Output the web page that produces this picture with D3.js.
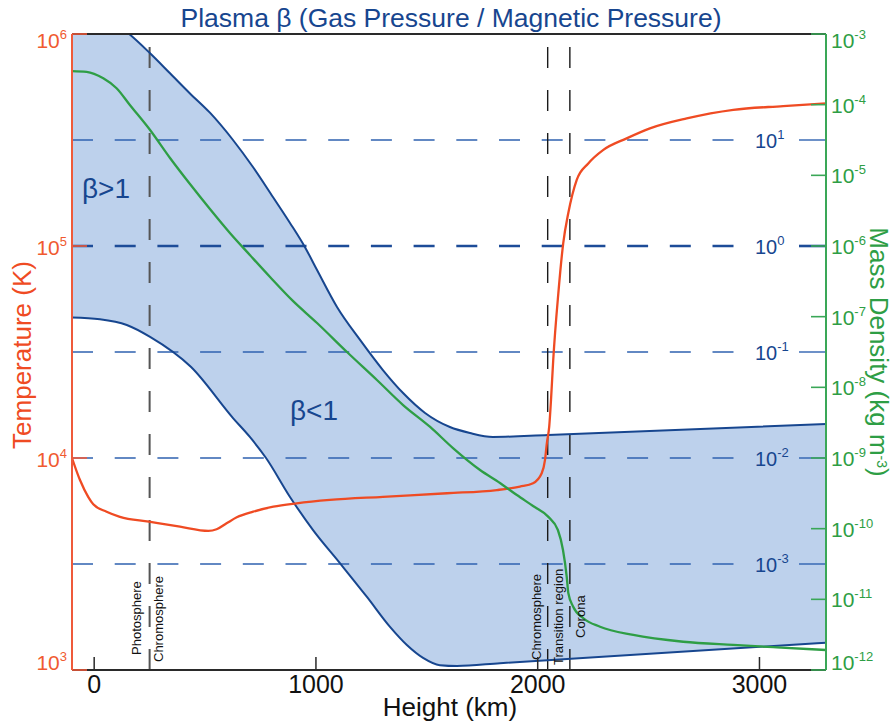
<!DOCTYPE html>
<html>
<head>
<meta charset="utf-8">
<script src="https://cdn.jsdelivr.net/npm/d3@7/dist/d3.min.js"></script>
<style>
  html, body { margin: 0; padding: 0; background: #fff; }
  svg { display: block; font-family: "Liberation Sans", Arial, Helvetica, sans-serif; }
</style>
</head>
<body>
<svg id="chart" width="896" height="724"></svg>
<script>
// ---- Data: solar atmosphere model vs. height above the photosphere (km) ----
const heightTemp = [-100, -64, -27, -4, 56, 116, 247, 387, 515, 552, 597, 643, 717, 808, 913, 1063, 1302, 1591, 1816, 1920, 1979, 2018, 2033, 2041, 2052, 2060, 2070, 2093, 2115, 2138, 2176, 2228, 2296, 2401, 2506, 2672, 2882, 3107, 3300];
const temperature = [1.0e4, 7.87e3, 6.56e3, 6.05e3, 5.58e3, 5.28e3, 5.01e3, 4.74e3, 4.53e3, 4.61e3, 4.92e3, 5.25e3, 5.58e3, 5.89e3, 6.11e3, 6.34e3, 6.56e3, 6.82e3, 7.06e3, 7.33e3, 7.60e3, 8.47e3, 9.79e3, 1.17e4, 1.41e4, 1.88e4, 2.90e4, 5.98e4, 1.03e5, 1.43e5, 2.05e5, 2.45e5, 2.84e5, 3.22e5, 3.59e5, 4.00e5, 4.39e5, 4.57e5, 4.71e5];

const heightDensity = [-100, -34, 41, 101, 161, 252, 342, 432, 522, 612, 702, 793, 896, 1005, 1140, 1275, 1393, 1515, 1618, 1740, 1830, 1906, 1979, 2047, 2091, 2114, 2131, 2138, 2160, 2206, 2281, 2431, 2656, 2882, 3078, 3300];
const density = [2.99e-4, 2.92e-4, 2.36e-4, 1.71e-4, 9.9e-5, 4.38e-5, 1.76e-5, 7.53e-6, 3.34e-6, 1.53e-6, 7.46e-7, 3.64e-7, 1.67e-7, 8.13e-8, 3.16e-8, 1.27e-8, 5.62e-9, 2.75e-9, 1.38e-9, 6.76e-10, 4.43e-10, 2.99e-10, 2.09e-10, 1.48e-10, 9.57e-11, 4.99e-11, 2.07e-11, 1.23e-11, 7.87e-12, 5.40e-12, 4.10e-12, 3.13e-12, 2.51e-12, 2.26e-12, 2.09e-12, 1.92e-12];

// Upper and lower limits of plasma beta
const heightBetaHigh = [-100, 60, 158, 252, 342, 432, 523, 626, 716, 806, 883, 950, 1005, 1095, 1199, 1302, 1393, 1492, 1604, 1695, 1798, 2047, 3300];
const betaHigh = [224, 141, 100, 65.8, 42.6, 27.5, 18.0, 10, 5.56, 2.90, 1.65, 0.98, 0.594, 0.266, 0.130, 0.0676, 0.0410, 0.0266, 0.0196, 0.0172, 0.0158, 0.0165, 0.0209];
const heightBetaLow = [-100, 26, 147, 252, 437, 626, 702, 775, 883, 987, 1108, 1230, 1334, 1410, 1483, 1559, 1636, 1830, 3300];
const betaLow = [0.212, 0.204, 0.180, 0.139, 0.0721, 0.0238, 0.0158, 0.0100, 4.29e-3, 2.09e-3, 1.02e-3, 4.89e-4, 2.55e-4, 1.72e-4, 1.30e-4, 1.11e-4, 1.09e-4, 1.16e-4, 1.81e-4];

// Reference beta levels and their exponents
const betaLevels = [1e1, 1e0, 1e-1, 1e-2, 1e-3];
const betaExponents = ["1", "0", "-1", "-2", "-3"];

// Layer boundaries (km) and their names
const boundaryHeights = [250, 2045, 2145];
const layerNames = ["Photosphere", "Chromosphere", "Chromosphere", "Transition region", "Corona"];

// Axis ticks
const heightTicks = [0, 1000, 2000, 3000];
const tempTicks = [1e3, 1e4, 1e5, 1e6];
const tempExponents = ["3", "4", "5", "6"];
const densityTicks = [1e-3, 1e-4, 1e-5, 1e-6, 1e-7, 1e-8, 1e-9, 1e-10, 1e-11, 1e-12];
const densityExponents = ["-3", "-4", "-5", "-6", "-7", "-8", "-9", "-10", "-11", "-12"];

// ---- Layout ----
const L = 72, R = 826, T = 34, B = 670;
const orange = "#ef4b23", green = "#2e9e45", navy = "#17468f", fillBlue = "#bdd1ec";

const svg = d3.select("#chart");
const x = d3.scaleLinear().domain([-100, 3300]).range([L, R]);
const yT = d3.scaleLog().domain([1e3, 1e6]).range([B, T]);
const yRho = d3.scaleLog().domain([1e-12, 1e-3]).range([B, T]);
const yBeta = d3.scaleLog().domain([1e-4, 1e2]).range([B, T]);

svg.append("defs").append("clipPath").attr("id", "plot")
  .append("rect").attr("x", L).attr("y", T).attr("width", R - L).attr("height", B - T);

const plot = svg.append("g").attr("clip-path", "url(#plot)");

// Shaded beta range
const betaLine = d3.line().x(d => x(d[0])).y(d => yBeta(d[1])).curve(d3.curveMonotoneX);
const upper = d3.zip(heightBetaHigh, betaHigh);
const lower = d3.zip(heightBetaLow, betaLow);
const lowerRev = betaLine(lower.slice().reverse());
plot.append("path")
  .attr("d", betaLine(upper) + "L" + lowerRev.slice(1) + "Z")
  .attr("fill", fillBlue);

// Horizontal beta reference lines, broken where the label sits
const labelX0 = 736, labelX1 = 799;
betaLevels.forEach((b, i) => {
  const y = yBeta(b);
  const strong = b === 1;
  const col = strong ? "#1d4c98" : "#2f62b0";
  const w = strong ? 2.6 : 1.4;
  plot.append("line").attr("x1", L).attr("x2", labelX0).attr("y1", y).attr("y2", y)
    .attr("stroke", col).attr("stroke-width", w).attr("stroke-dasharray", "21,21.7");
  plot.append("line").attr("x1", labelX1).attr("x2", R).attr("y1", y).attr("y2", y)
    .attr("stroke", col).attr("stroke-width", w);
  const t = svg.append("text").attr("x", 755).attr("y", y + 8)
    .attr("fill", navy).attr("font-size", 20).text("10");
  t.append("tspan").attr("dy", -9).attr("font-size", 13).text(betaExponents[i]);
});

// Vertical layer boundaries
boundaryHeights.forEach((h, i) => {
  plot.append("line").attr("x1", x(h)).attr("x2", x(h)).attr("y1", B).attr("y2", T)
    .attr("stroke", i === 0 ? "#555" : "#1a1a1a")
    .attr("stroke-width", i === 0 ? 2 : 1.4)
    .attr("stroke-dasharray", "21,22");
});

// Beta range outline
plot.append("path").attr("d", betaLine(upper)).attr("fill", "none").attr("stroke", navy).attr("stroke-width", 2);
plot.append("path").attr("d", betaLine(lower)).attr("fill", "none").attr("stroke", navy).attr("stroke-width", 2);

// Temperature and mass density profiles
const tempLine = d3.line().x(d => x(d[0])).y(d => yT(d[1])).curve(d3.curveMonotoneX);
plot.append("path").attr("d", tempLine(d3.zip(heightTemp, temperature)))
  .attr("fill", "none").attr("stroke", orange).attr("stroke-width", 2.3);
const rhoLine = d3.line().x(d => x(d[0])).y(d => yRho(d[1])).curve(d3.curveMonotoneX);
plot.append("path").attr("d", rhoLine(d3.zip(heightDensity, density)))
  .attr("fill", "none").attr("stroke", green).attr("stroke-width", 2.3);

// Layer labels (rotated)
const layerPos = [
  { x: 141, y: 655 }, { x: 162.5, y: 662 },
  { x: 540.5, y: 660 }, { x: 562.5, y: 665 }, { x: 584.5, y: 638 }
];
layerNames.forEach((name, i) => {
  svg.append("text")
    .attr("transform", `translate(${layerPos[i].x},${layerPos[i].y}) rotate(-90)`)
    .attr("font-size", 13).attr("fill", "#111").text(name);
});

// Region labels
svg.append("text").attr("x", 82).attr("y", 198).attr("font-size", 28).attr("fill", navy).text("β>1");
svg.append("text").attr("x", 290).attr("y", 420).attr("font-size", 28).attr("fill", navy).text("β<1");

// Frame
svg.append("line").attr("x1", L).attr("x2", R).attr("y1", T).attr("y2", T).attr("stroke", "#2a2a2a").attr("stroke-width", 2);
svg.append("line").attr("x1", L).attr("x2", R).attr("y1", B).attr("y2", B).attr("stroke", "#2a2a2a").attr("stroke-width", 2);
svg.append("line").attr("x1", L).attr("x2", L).attr("y1", T).attr("y2", B).attr("stroke", "#ef5a3a").attr("stroke-width", 2);
svg.append("line").attr("x1", R).attr("x2", R).attr("y1", T).attr("y2", B).attr("stroke", "#3aa757").attr("stroke-width", 2);

// Bottom axis
const xAxis = svg.append("g");
heightTicks.forEach(v => {
  xAxis.append("line").attr("x1", x(v)).attr("x2", x(v)).attr("y1", B).attr("y2", B - 13)
    .attr("stroke", "#2a2a2a").attr("stroke-width", 1.5);
  xAxis.append("text").attr("x", x(v)).attr("y", 693).attr("text-anchor", "middle")
    .attr("font-size", 25).attr("fill", "#111").text(v);
});
svg.append("text").attr("x", 450).attr("y", 716).attr("text-anchor", "middle")
  .attr("font-size", 26).attr("fill", "#111").text("Height (km)");

// Left axis: temperature
tempTicks.forEach((v, i) => {
  const y = yT(v);
  svg.append("line").attr("x1", L).attr("x2", L + 15).attr("y1", y).attr("y2", y)
    .attr("stroke", "#ef5a3a").attr("stroke-width", 1.6);
  const by = i === 0 ? B : (i === tempTicks.length - 1 ? 48 : y + 9);
  const t = svg.append("text").attr("x", 67).attr("y", by).attr("text-anchor", "end")
    .attr("fill", "#f05a30").attr("font-size", 21).text("10");
  t.append("tspan").attr("dy", -9).attr("font-size", 13).text(tempExponents[i]);
});
svg.append("text")
  .attr("transform", "translate(31,355) rotate(-90)")
  .attr("text-anchor", "middle").attr("font-size", 26).attr("fill", orange)
  .text("Temperature (K)");

// Right axis: mass density
densityTicks.forEach((v, i) => {
  const y = yRho(v);
  svg.append("line").attr("x1", R - 15).attr("x2", R).attr("y1", y).attr("y2", y)
    .attr("stroke", "#3aa757").attr("stroke-width", 1.6);
  const by = i === 0 ? 48 : (i === densityTicks.length - 1 ? B : y + 8);
  const t = svg.append("text").attr("x", 831).attr("y", by)
    .attr("fill", green).attr("font-size", 21).text("10");
  t.append("tspan").attr("dy", -9).attr("font-size", 13).text(densityExponents[i]);
});
const rl = svg.append("text")
  .attr("transform", "translate(870,352) rotate(90)")
  .attr("text-anchor", "middle").attr("font-size", 26).attr("fill", green)
  .text("Mass Density (kg m");
rl.append("tspan").attr("dy", -7).attr("font-size", 14).text("-3");
rl.append("tspan").attr("dy", 7).text(")");

// Title
svg.append("text").attr("x", 451).attr("y", 27).attr("text-anchor", "middle")
  .attr("font-size", 26.5).attr("fill", navy)
  .text("Plasma β (Gas Pressure / Magnetic Pressure)");
</script>
</body>
</html>
